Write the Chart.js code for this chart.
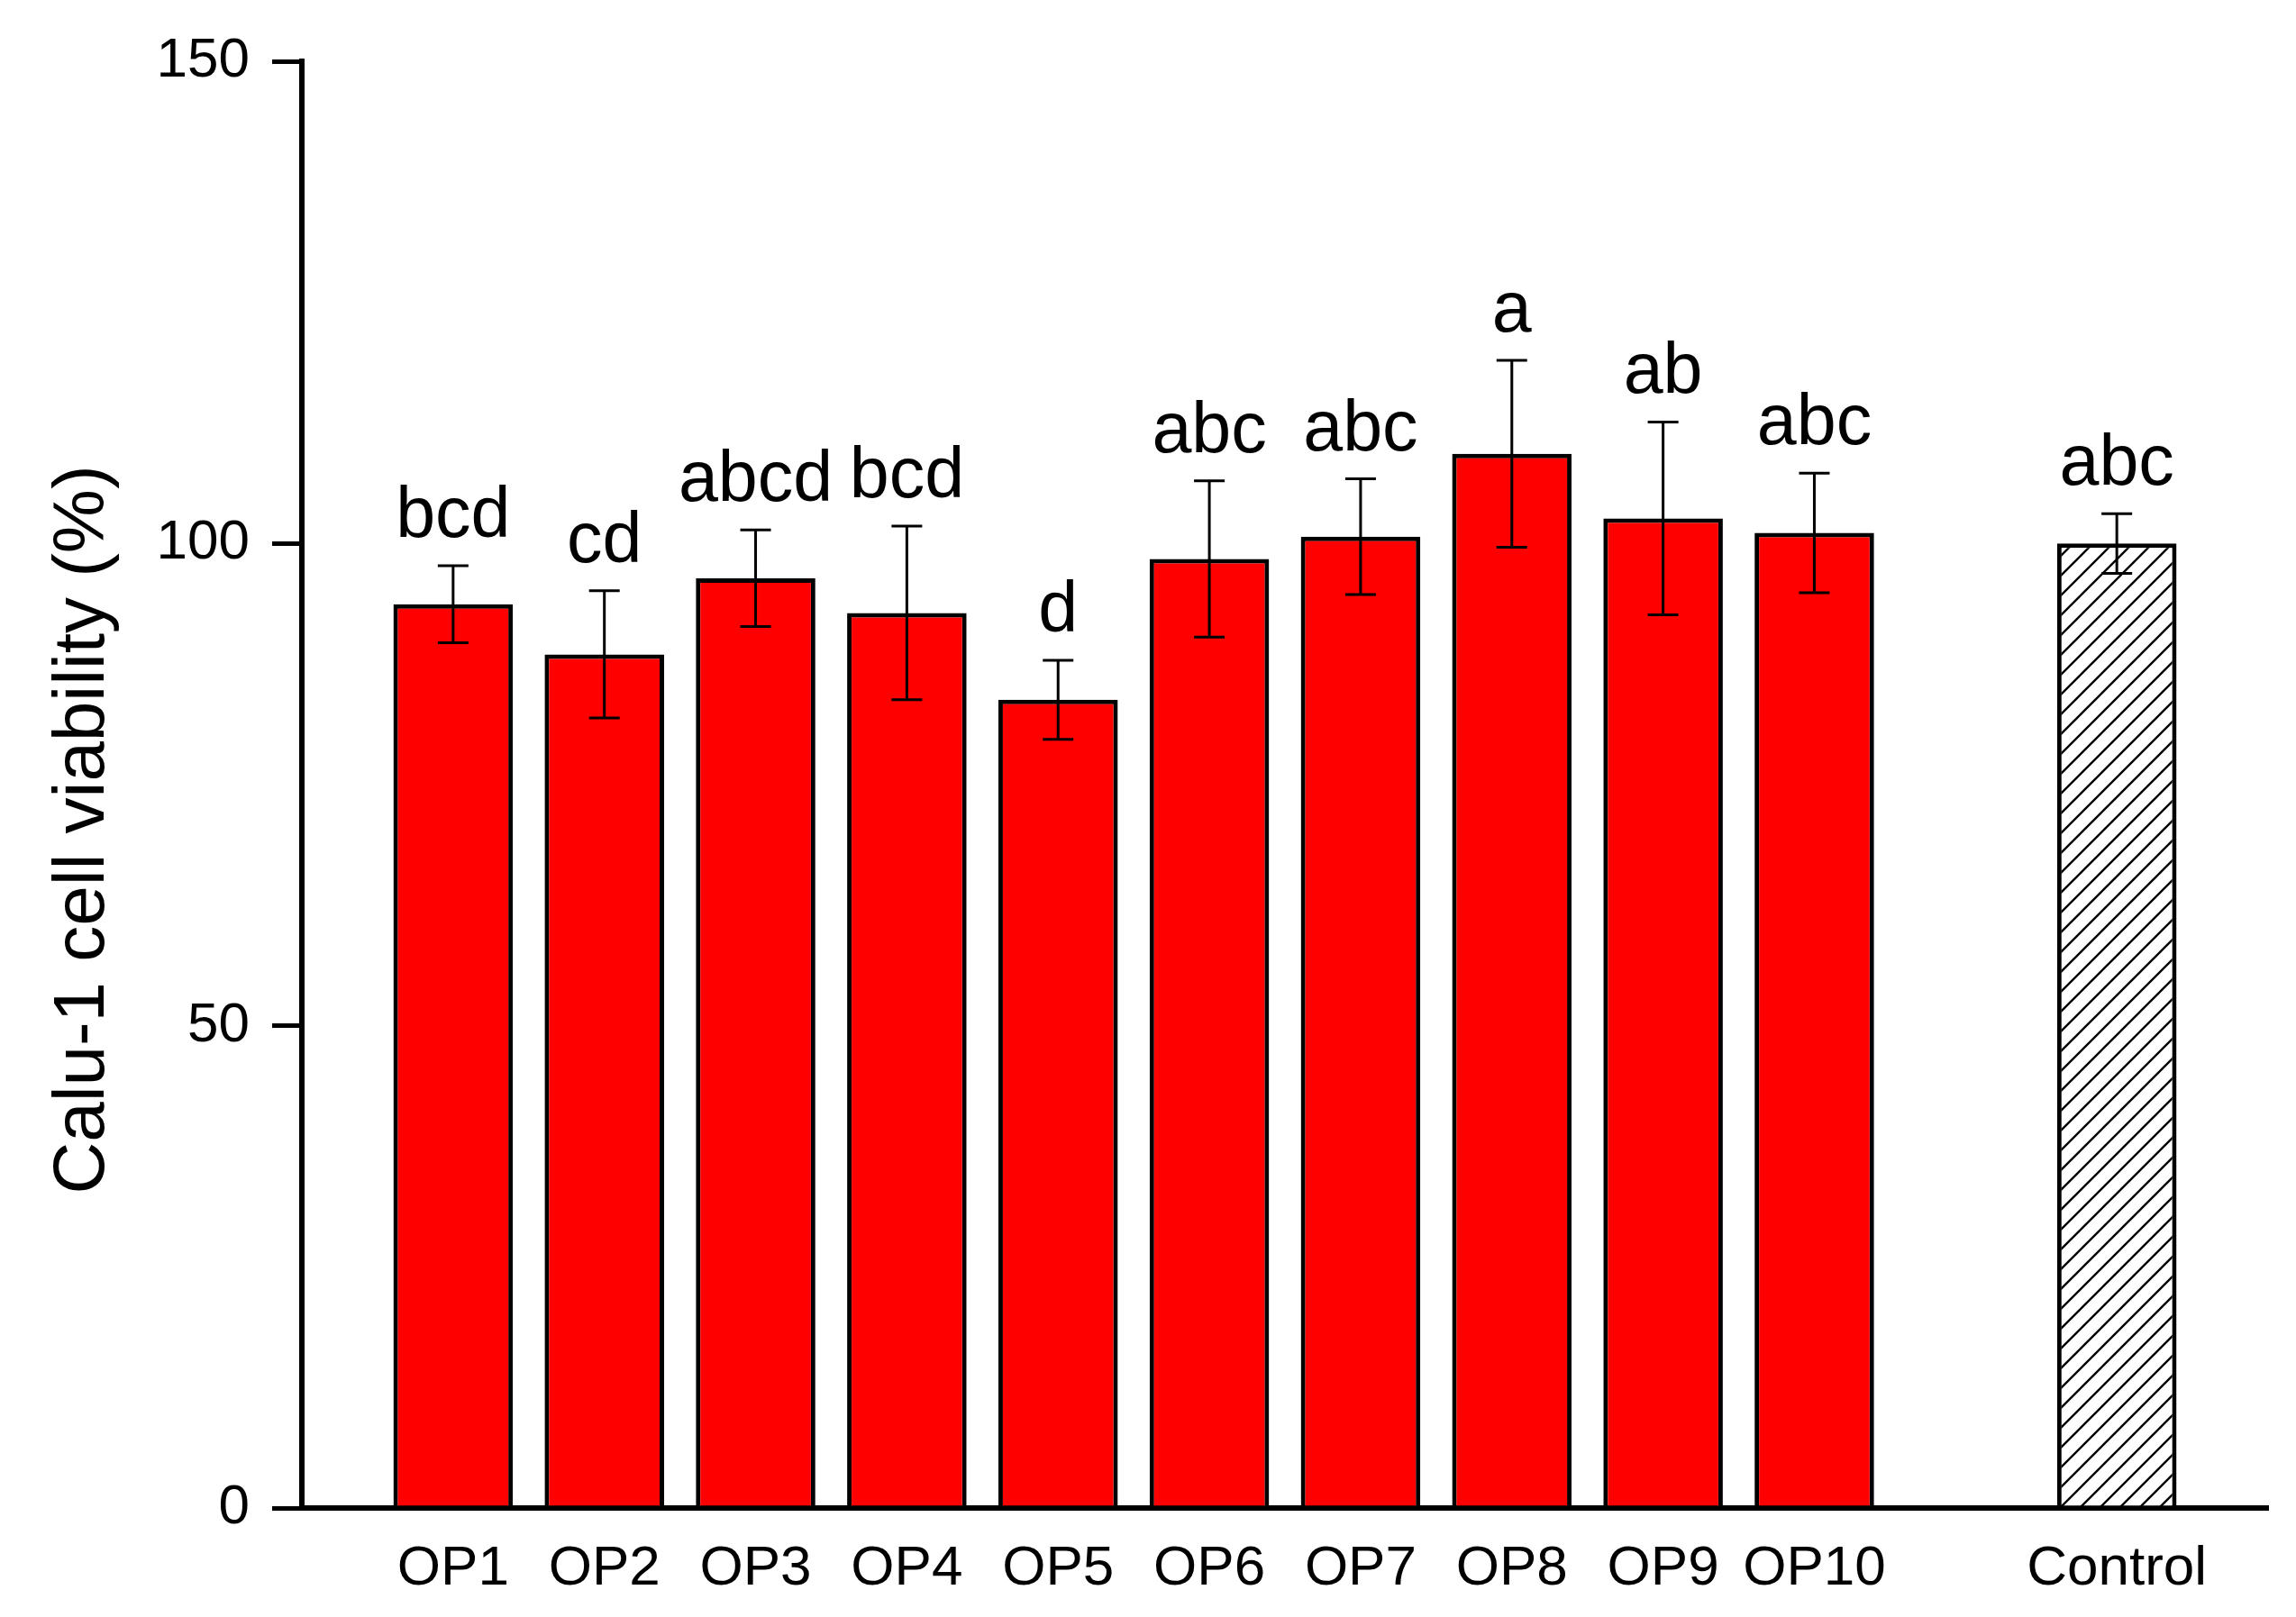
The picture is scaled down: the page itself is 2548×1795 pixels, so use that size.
<!DOCTYPE html>
<html>
<head>
<meta charset="utf-8">
<script src="https://cdn.jsdelivr.net/npm/chart.js@4.4.0/dist/chart.umd.min.js"></script>
<style>
html, body { margin: 0; padding: 0; background: #fff; }
#wrap { width: 2548px; height: 1795px; }
</style>
</head>
<body>
<div id="wrap"><canvas id="chart"></canvas></div>
<script>
var groups = ['OP1', 'OP2', 'OP3', 'OP4', 'OP5', 'OP6', 'OP7', 'OP8', 'OP9', 'OP10', 'Control']
var viability = [93.7, 88.5, 96.4, 92.8, 83.8, 98.4, 100.7, 109.3, 102.6, 101.1, 100.0]
var sd = [4.0, 6.6, 5.0, 9.0, 4.1, 8.1, 6.0, 9.7, 10.0, 6.2, 3.1]
var letters = ['bcd', 'cd', 'abcd', 'bcd', 'd', 'abc', 'abc', 'a', 'ab', 'abc', 'abc']
var yTicks = [0, 50, 100, 150]
var yTitle = 'Calu-1 cell viability (%)'

// empty slot before OP1, between OP10 and Control, and after Control
function withGaps(arr, gap) {
  return [gap].concat(arr.slice(0, 10), [gap], arr.slice(10), [gap])
}
var labels = withGaps(groups, '')
var values = withGaps(viability, null)
var errs = withGaps(sd, null)
var marks = withGaps(letters, '')

var FONT = '"Liberation Sans", Arial, sans-serif'

// diagonal hatch for the control bar
function hatch() {
  var s = 22
  var c = document.createElement('canvas')
  c.width = s
  c.height = s
  var g = c.getContext('2d')
  g.fillStyle = '#fff'
  g.fillRect(0, 0, s, s)
  g.strokeStyle = '#000'
  g.lineWidth = 2.4
  g.beginPath()
  g.moveTo(-s / 2, s / 2); g.lineTo(s / 2, -s / 2)
  g.moveTo(0, s); g.lineTo(s, 0)
  g.moveTo(s / 2, s * 1.5); g.lineTo(s * 1.5, s / 2)
  g.stroke()
  return g.createPattern(c, 'repeat')
}

var fills = values.map(function (v, i) {
  return labels[i] === 'Control' ? hatch() : '#ff0000'
})

var errorBars = {
  id: 'errorBars',
  afterDatasetsDraw: function (chart) {
    var ctx = chart.ctx
    var y = chart.scales.y
    var meta = chart.getDatasetMeta(0)
    ctx.save()
    ctx.strokeStyle = '#000'
    ctx.fillStyle = '#000'
    ctx.lineWidth = 3
    ctx.font = '79px ' + FONT
    ctx.textAlign = 'center'
    ctx.textBaseline = 'alphabetic'
    values.forEach(function (v, i) {
      if (v == null) return
      var x = meta.data[i].x
      var top = y.getPixelForValue(v + errs[i])
      var bot = y.getPixelForValue(v - errs[i])
      ctx.beginPath()
      ctx.moveTo(x, top); ctx.lineTo(x, bot)
      ctx.moveTo(x - 17, top); ctx.lineTo(x + 17, top)
      ctx.moveTo(x - 17, bot); ctx.lineTo(x + 17, bot)
      ctx.stroke()
      ctx.fillText(marks[i], x, top - 32)
    })
    ctx.restore()
  }
}

// y axis title, sitting a little below the middle of the axis
var axisTitle = {
  id: 'axisTitle',
  afterDraw: function (chart) {
    var ctx = chart.ctx
    var a = chart.chartArea
    ctx.save()
    ctx.translate(93, (a.top + a.bottom) / 2 + 50)
    ctx.rotate(-Math.PI / 2)
    ctx.fillStyle = '#000'
    ctx.font = '80px ' + FONT
    ctx.textAlign = 'center'
    ctx.textBaseline = 'middle'
    ctx.fillText(yTitle, 0, 0)
    ctx.restore()
  }
}

Chart.defaults.font.family = FONT
Chart.defaults.color = '#000'

var ctx = document.getElementById('chart').getContext('2d')
var myChart = new Chart(ctx, {
  type: 'bar',
  data: {
    labels: labels,
    datasets: [
      {
        data: values,
        backgroundColor: fills,
        borderColor: '#000',
        borderWidth: 5,
        barPercentage: 0.79,
        categoryPercentage: 1
      }
    ]
  },
  options: {
    responsive: true,
    maintainAspectRatio: false,
    animation: false,
    layout: { padding: { top: 68, right: 30, left: 0, bottom: 0 } },
    plugins: {
      legend: { display: false },
      tooltip: { enabled: false }
    },
    scales: {
      x: {
        type: 'category',
        offset: false,
        border: { color: '#000', width: 6 },
        grid: { drawOnChartArea: false, drawTicks: false },
        ticks: { font: { size: 62 }, padding: 31, autoSkip: false, maxRotation: 0 },
        afterFit: function (s) { s.height = 121 }
      },
      y: {
        min: 0,
        max: 150,
        border: { color: '#000', width: 6 },
        grid: { drawOnChartArea: false, color: '#000', lineWidth: 5, tickLength: 33 },
        ticks: { font: { size: 62 }, padding: 25 },
        afterBuildTicks: function (s) {
          s.ticks = yTicks.map(function (v) { return { value: v } })
        },
        afterFit: function (s) { s.width = 335 }
      }
    }
  },
  plugins: [errorBars, axisTitle]
})
</script>
</body>
</html>
